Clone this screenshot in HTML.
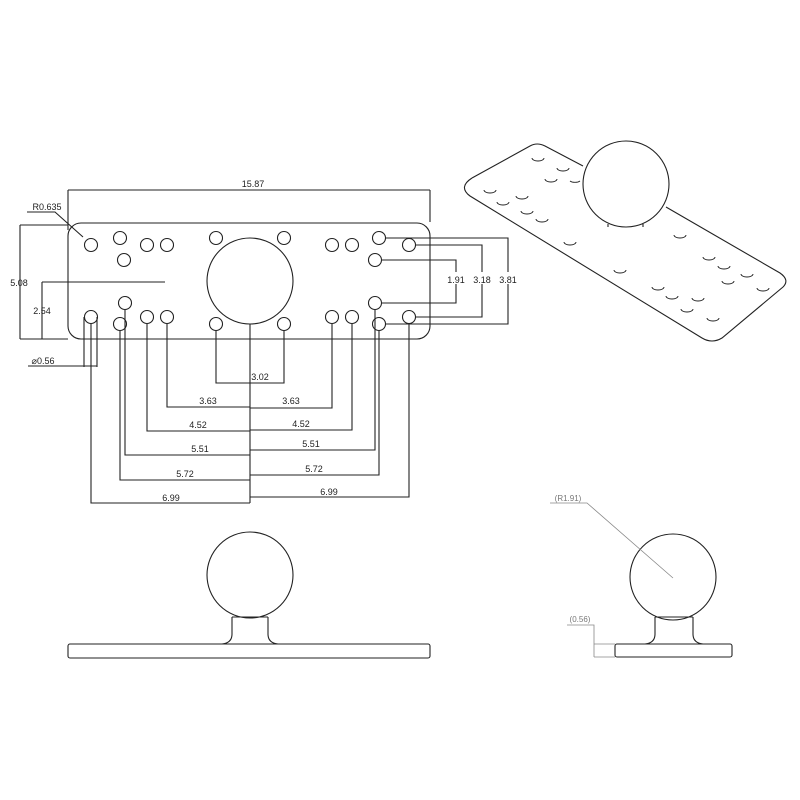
<!DOCTYPE html>
<html><head><meta charset="utf-8"><style>
html,body{margin:0;padding:0;background:#fff;}
svg{display:block;}
text{font-family:"Liberation Sans",sans-serif;font-size:9px;fill:#222;}
</style></head><body>
<svg width="800" height="800" viewBox="0 0 800 800" xmlns="http://www.w3.org/2000/svg">
<g fill="none" stroke="#222" stroke-width="1.1">
<!-- plate top view -->
<rect x="68" y="223" width="362" height="116" rx="13" ry="13"/>
<circle cx="250" cy="281" r="43"/>
<g>
<circle cx="91" cy="245" r="6.5"/><circle cx="120" cy="238" r="6.5"/><circle cx="147" cy="245" r="6.5"/><circle cx="167" cy="245" r="6.5"/>
<circle cx="216" cy="238" r="6.5"/><circle cx="284" cy="238" r="6.5"/><circle cx="332" cy="245" r="6.5"/><circle cx="352" cy="245" r="6.5"/>
<circle cx="379" cy="238" r="6.5"/><circle cx="409" cy="245" r="6.5"/>
<circle cx="124" cy="260" r="6.5"/><circle cx="375" cy="260" r="6.5"/>
<circle cx="125" cy="303" r="6.5"/><circle cx="375" cy="303" r="6.5"/>
<circle cx="91" cy="317" r="6.5"/><circle cx="147" cy="317" r="6.5"/><circle cx="167" cy="317" r="6.5"/>
<circle cx="332" cy="317" r="6.5"/><circle cx="352" cy="317" r="6.5"/><circle cx="409" cy="317" r="6.5"/>
<circle cx="120" cy="324" r="6.5"/><circle cx="216" cy="324" r="6.5"/><circle cx="284" cy="324" r="6.5"/><circle cx="379" cy="324" r="6.5"/>
</g>
<!-- dims -->
<path d="M68 190H430M68 190V230M430 190V222"/>
<path d="M27 212H55L83 237"/>
<path d="M20 225H68M20 225V339M20 339H68M42 282H165M42 282V339M42 339H68"/>
<path d="M28 366H97M84 317V367M97 317V367"/>
<path d="M386 238H508V324H386M416 245H482V317H416M382 260H456V303H382"/>
<path d="M250 324V503"/>
<path d="M216 331V383H284V331"/>
<path d="M167 324V407H250M332 324V408H250"/>
<path d="M147 324V431H250M352 324V430H250"/>
<path d="M125 310V455H250M375 310V450H250"/>
<path d="M120 331V480H250M379 331V475H250"/>
<path d="M91 324V503H250M409 324V497H250"/>
<!-- iso view -->
<path d="M472 178L530 146Q537 142 545 146L583 166"/>
<path d="M666 207L780 273Q790 280 783 287L722 338Q712 344 702 338L470 196Q458 187 472 178"/>
<circle cx="626" cy="184" r="43"/>
<path d="M608 224v3M643 224v3"/>
<g stroke-width="0.9">
<path d="M532 158a6 3 0 0 0 12 0M557 168a6 3 0 0 0 12 0M545 179a6 3 0 0 0 12 0M570 181a6 3 0 0 0 10 0M484 190a6 3 0 0 0 12 0M516 196a6 3 0 0 0 12 0M497 202a6 3 0 0 0 12 0M521 211a6 3 0 0 0 12 0M536 219a6 3 0 0 0 12 0M564 242a6 3 0 0 0 12 0M674 235a6 3 0 0 0 12 0M614 270a6 3 0 0 0 12 0M703 257a6 3 0 0 0 12 0M718 266a6 3 0 0 0 12 0M741 274a6 3 0 0 0 12 0M722 281a6 3 0 0 0 12 0M757 288a6 3 0 0 0 12 0M652 287a6 3 0 0 0 12 0M666 296a6 3 0 0 0 12 0M692 298a6 3 0 0 0 12 0M681 309a6 3 0 0 0 12 0M707 318a6 3 0 0 0 12 0"/>
</g>
<!-- side view left -->
<rect x="68" y="644" width="362" height="14" rx="2"/>
<circle cx="250" cy="575" r="43"/>
<path d="M232 617V634Q232 643 222 644M268 617V634Q268 643 278 644M232 617H268"/>
<!-- side view right -->
<rect x="615" y="644" width="117" height="13" rx="2"/>
<circle cx="673" cy="577" r="43"/>
<path d="M655 617V634Q655 643 645 644M693 617V634Q693 643 703 644M655 617H693"/>
</g>
<g fill="none" stroke="#888" stroke-width="0.8">
<path d="M550 503H587L673 578"/>
<path d="M567 625H594V657M594 644H615M594 657H615"/>
</g>
<g text-anchor="middle">
<text x="253" y="187">15.87</text>
<text x="47" y="210">R0.635</text>
<text x="19" y="286">5.08</text>
<text x="42" y="314">2.54</text>
<text x="43" y="364">⌀0.56</text>
<rect x="446" y="272" width="20" height="12" fill="#fff"/>
<text x="456" y="283">1.91</text>
<rect x="472" y="272" width="20" height="12" fill="#fff"/>
<text x="482" y="283">3.18</text>
<rect x="498" y="272" width="20" height="12" fill="#fff"/>
<text x="508" y="283">3.81</text>
<text x="260" y="380">3.02</text>
<text x="208" y="404">3.63</text><text x="291" y="404">3.63</text>
<text x="198" y="428">4.52</text><text x="301" y="427">4.52</text>
<text x="200" y="452">5.51</text><text x="311" y="447">5.51</text>
<text x="185" y="477">5.72</text><text x="314" y="472">5.72</text>
<text x="171" y="501">6.99</text><text x="329" y="495">6.99</text>
<text x="568" y="501" style="fill:#777;font-size:8px">(R1.91)</text>
<text x="580" y="622" style="fill:#777;font-size:8px">(0.56)</text>
</g>
</svg>
</body></html>
